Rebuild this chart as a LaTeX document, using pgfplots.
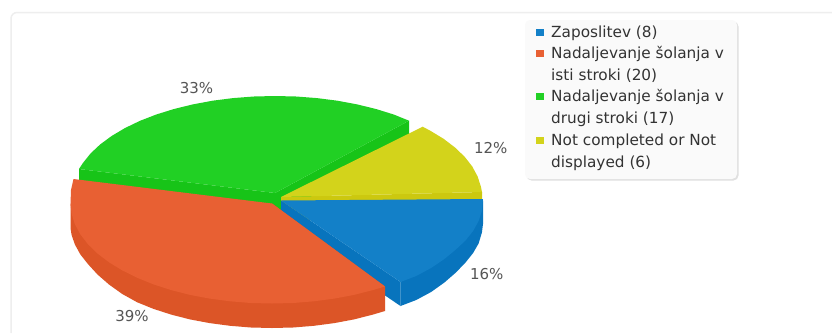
\documentclass[border=0pt]{standalone}
\usepackage{pgfplots}
\pgfplotsset{compat=1.18}
\usepackage{fontspec}
\setmainfont{DejaVu Sans}
\definecolor{bluetop}{HTML}{1380C8}
\definecolor{blueside}{HTML}{0874BD}
\definecolor{redtop}{HTML}{E86033}
\definecolor{redside}{HTML}{DC5527}
\definecolor{greentop}{HTML}{21D024}
\definecolor{greenside}{HTML}{17C418}
\definecolor{yellowtop}{HTML}{D3D31B}
\definecolor{yellowside}{HTML}{CCC80F}
\definecolor{pct}{HTML}{555555}
\definecolor{legtext}{HTML}{333333}
\definecolor{panel}{HTML}{EEEEEE}
\begin{document}
\begin{tikzpicture}
\begin{axis}[
  width=832pt,height=333pt,scale only axis,
  xmin=0,xmax=832,ymin=0,ymax=333,y dir=reverse,
  axis lines=none,clip=true,
]
\fill[white] (axis cs:0,0) rectangle (axis cs:832,333);
% panel and legend box
\draw[panel,line width=1.5pt,rounded corners=6pt] (axis cs:11,333) -- (axis cs:11,12.5) -- (axis cs:832,12.5);
\fill[black!12,rounded corners=5pt] (axis cs:526.5,21.5) rectangle (axis cs:738.5,180.5);
\fill[black!2,rounded corners=5pt] (axis cs:525,20) rectangle (axis cs:737,179);

% green: cut sides, top
\addplot[fill=greenside,draw=none] coordinates {(79,169) (275,193) (409,120.7) (409,144.7) (275,217) (79,193)} -- cycle;
\addplot[fill=greentop,draw=none] coordinates {(275,193) (79,169) (82.9,163) (90.5,153.5) (100.1,144.5) (111.6,136) (124.9,128.1) (139.8,120.9) (156.3,114.5) (174,109) (192.8,104.4) (212.6,100.7) (233,98.1) (253.9,96.5) (275,96) (296.1,96.5) (317,98.1) (337.4,100.7) (357.2,104.4) (376,109) (393.7,114.5) (409,120.7)} -- cycle;

% yellow: side, top
\addplot[fill=yellowside,draw=none] coordinates {(281,197) (482,192) (482.5,216) (281,221)} -- cycle;
\addplot[fill=yellowtop,draw=none] coordinates {(281,197) (422.7,126.7) (430.4,130.8) (443.6,138.8) (455,147.5) (464.6,156.7) (472.2,166.4) (477.6,176.4) (480.9,186.7) (482,192)} -- cycle;

% blue: inner side, outer side, top
\addplot[fill=blueside,draw=none] coordinates {(281,200.5) (400.5,282) (400.5,306) (281,224.5)} -- cycle;
\addplot[fill=blueside,draw=none] coordinates {(483,200.5) (483,224) (481.9,232.5) (478.6,243.5) (473.1,253) (465.5,262.5) (455.9,272.5) (444.4,282.5) (431.1,292) (416.2,300) (400.5,306) (400.5,282)} -- cycle;
\addplot[fill=bluetop,draw=none] coordinates {(281,200.5) (483,199) (481.9,211.2) (478.6,221) (473.1,231) (465.5,240.5) (455.9,249.5) (444.4,259) (431.1,268) (416.2,276) (400.5,282)} -- cycle;

% red: side, top
\addplot[fill=redside,draw=none] coordinates {(272,203.5) (385,286.5) (385,311) (372.8,314.6) (354,319.4) (334.3,323.1) (313.9,325.8) (293.1,327.5) (272,328) (250.9,327.5) (230.1,325.8) (209.7,323.1) (190,319.4) (171.2,314.6) (153.6,308.9) (137.2,302.3) (122.3,294) (109,284.5) (97.5,274.5) (87.9,264) (80.4,254.5) (74.9,244.5) (71.6,235) (70.5,228) (70.5,203.5)} -- cycle;
\addplot[fill=redtop,draw=none] coordinates {(272,203.5) (385,286.5) (372.8,290.1) (354,294.9) (334.3,298.6) (313.9,301.3) (293.1,303) (272,303.5) (250.9,303) (230.1,301.3) (209.7,298.6) (190,294.9) (171.2,290.1) (153.6,284.4) (137.2,277.8) (122.3,270.4) (109,262.3) (97.5,253.5) (87.9,244.2) (80.4,234.4) (74.9,224.3) (71.6,213.9) (70.5,203.5) (71,190) (73.5,179)} -- cycle;

% legend markers
\addplot[only marks,mark=square*,mark size=3.25pt,color=bluetop] coordinates {(539.5,32)};
\addplot[only marks,mark=square*,mark size=3.25pt,color=redtop] coordinates {(539.5,53)};
\addplot[only marks,mark=square*,mark size=3.25pt,color=greentop] coordinates {(539.5,96)};
\addplot[only marks,mark=square*,mark size=3.25pt,color=yellowtop] coordinates {(539.5,140)};

% percentage labels
\begin{scope}[every node/.style={text=pct,font=\fontsize{15}{18}\selectfont,inner sep=0pt,anchor=center}]
\node at (axis cs:196.5,88) {33\%};
\node at (axis cs:132,316) {39\%};
\node at (axis cs:490.7,147.7) {12\%};
\node at (axis cs:486.7,274) {16\%};
\end{scope}

% legend text
\begin{scope}[every node/.style={text=legtext,font=\fontsize{15.3}{18}\selectfont,inner sep=0pt,anchor=base west}]
\node at (axis cs:551,37) {Zaposlitev (8)};
\node at (axis cs:551,58) {Nadaljevanje šolanja v};
\node at (axis cs:551,80) {isti stroki (20)};
\node at (axis cs:551,101.5) {Nadaljevanje šolanja v};
\node at (axis cs:551,123) {drugi stroki (17)};
\node at (axis cs:551,145) {Not completed or Not};
\node at (axis cs:551,167) {displayed (6)};
\end{scope}
\end{axis}
\end{tikzpicture}
\end{document}
